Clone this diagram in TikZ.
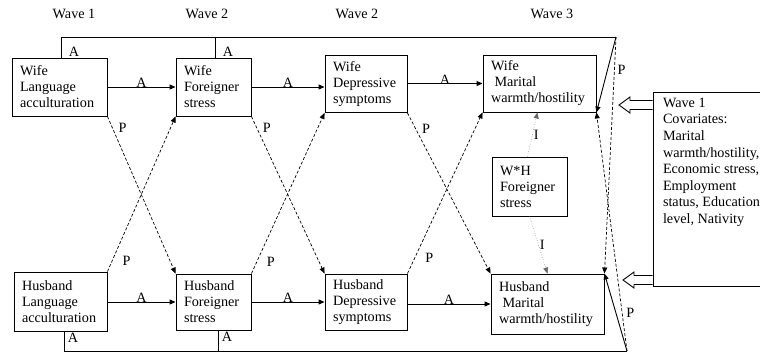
\documentclass[tikz,border=0pt]{standalone}
\usepackage{fontspec}
\setmainfont{Liberation Serif}
\usetikzlibrary{arrows.meta}
\usetikzlibrary{calc}
\usetikzlibrary{positioning}

\tikzset{
  box/.style={draw, align=left, inner xsep=8pt, inner ysep=2pt},
  lab/.style={inner sep=1pt},
  arr/.style={-{Triangle[length=6pt,width=5pt]}},
  dsh/.style={dash pattern=on 3pt off 2pt, line width=0.7pt},
  dot/.style={dotted, line width=0.5pt, black!60},
}

\begin{document}
\begin{tikzpicture}[x=1pt, y=-1pt, line width=0.9pt,
    font=\fontsize{14.2}{16}\selectfont]
  \clip (0,0) rectangle (760,354);

  % wave headings
  \node (h1) at (74,14) {Wave 1};
  \node (h2) at (207,14) {Wave 2};
  \node (h3) at (357,14) {Wave 2};
  \node (h4) at (552,14) {Wave 3};

  % wife row
  \node[box, text width=79pt, minimum height=58pt] (wl) at (59.5,87) {Wife\\Language\\acculturation};
  \node[box, text width=59pt, minimum height=58pt] (wf) at (213.5,87) {Wife\\Foreigner\\stress};
  \node[box, text width=66pt, minimum height=57pt] (wd) at (366,84) {Wife\\Depressive\\symptoms};
  \node[box, text width=97pt, minimum height=57pt] (wm) at (539.5,83.5) {Wife\\\hspace*{.25em}Marital\\warmth/hostility};

  % husband row
  \node[box, text width=77pt, minimum height=59pt] (hl) at (60.5,301.5) {Husband\\Language\\acculturation};
  \node[box, text width=59pt, minimum height=56pt] (hf) at (213.5,302) {Husband\\Foreigner\\stress};
  \node[box, text width=66pt, minimum height=56pt] (hd) at (366,302) {Husband\\Depressive\\symptoms};
  \node[box, text width=97pt, minimum height=60pt] (hm) at (547.5,304) {Husband\\\hspace*{.25em}Marital\\warmth/hostility};

  % interaction and covariates
  \node[box, text width=59pt, minimum height=59pt] (wh) at (529.5,186.5) {W*H\\Foreigner\\stress};
  \node[draw, minimum width=122pt, minimum height=194pt] (cov) at (714,189) {};
  \node[anchor=north west, align=left, inner xsep=10pt, inner ysep=6pt,
        font=\fontsize{14.2}{16.6}\selectfont] (covtext) at (cov.north west)
        {Wave 1\\Covariates:\\Marital\\warmth/hostility,\\Economic stress,\\Employment\\status, Education\\level, Nativity};

  \coordinate (topP) at (616,37);
  \coordinate (botP) at (627,351);
  \coordinate (hw) at (619,105);
  \coordinate (hh) at (623,280);

  % actor paths
  \draw[arr] (wl) -- node[lab, above, yshift=-2pt] {A} (wf);
  \draw[arr] (wf.east) -- node[lab, above, yshift=-2pt] {A} (wf.east -| wd.west);
  \draw[arr] (wd.east |- wm) -- node[lab, above, yshift=-2pt] {A} (wm);
  \draw[arr] (hl.east |- hf) -- node[lab, above, yshift=-2pt] {A} (hf);
  \draw[arr] (hf) -- node[lab, above, yshift=-2pt] {A} (hd);
  \draw[arr] (hd.east |- hm) -- node[lab, above, yshift=-2pt] {A} (hm);

  % long actor paths
  \draw ([xshift=2pt]wl.north) node[lab, anchor=south west, xshift=6pt] {A} |- (topP);
  \draw ([xshift=2pt]wf.north) node[lab, anchor=south west, xshift=6pt] {A} -- ([xshift=2pt]wf.north |- topP);
  \draw[arr] (topP) -- (wm.south east);
  \draw ([xshift=4pt]hl.south) node[lab, anchor=north west, xshift=2pt] {A} |- (botP);
  \draw ([xshift=5pt]hf.south) node[lab, anchor=north west, xshift=2pt] {A} -- ([xshift=5pt]hf.south |- botP);
  \draw[arr] (botP) -- (hm.north east);

  % partner paths
  \draw[dsh, arr] (wl.south east) -- node[lab, pos=0.07, anchor=west, xshift=5pt] {P} (hf.north west);
  \draw[dsh, arr] (hl.north east) -- node[lab, pos=0.07, anchor=west, xshift=9pt] {P} (wf.south west);
  \draw[dsh, arr] (wf.south east) -- node[lab, pos=0.07, anchor=west, xshift=5pt] {P} (hd.north west);
  \draw[dsh, arr] (hf.north east) -- node[lab, pos=0.07, anchor=west, xshift=9pt] {P} (wd.south west);
  \draw[dsh, arr] (wd.south east) -- node[lab, pos=0.1, anchor=west, xshift=5pt] {P} (hm.north west);
  \draw[dsh, arr] (hd.north east) -- node[lab, pos=0.1, anchor=west, xshift=9pt] {P} (wm.south west);
  \draw[dsh, arr] (topP) -- node[lab, pos=0.14, anchor=west, xshift=2pt] {P} (hm.north east);
  \draw[dsh, arr] (botP) -- node[lab, pos=0.16, anchor=west, xshift=3pt] {P} (wm.south east);

  % interaction paths
  \draw[dot, arr] ([xshift=-2pt]wh.north) -- node[lab, right, black] {I} ([xshift=-2pt]wm.south);
  \draw[dot, arr] (wh.south) -- node[lab, right, black] {I} (hm.north);

  % covariate arrows
  \draw[fill=white] ($(cov.west |- hw)+(0,4.5)$) -- ($(hw)+(11,4.5)$) -- ($(hw)+(11,8)$) -- (hw)
    -- ($(hw)+(11,-8)$) -- ($(hw)+(11,-4.5)$) -- ($(cov.west |- hw)+(0,-4.5)$);
  \draw[fill=white] ($(cov.west |- hh)+(0,4.5)$) -- ($(hh)+(11,4.5)$) -- ($(hh)+(11,8)$) -- (hh)
    -- ($(hh)+(11,-8)$) -- ($(hh)+(11,-4.5)$) -- ($(cov.west |- hh)+(0,-4.5)$);
\end{tikzpicture}
\end{document}
